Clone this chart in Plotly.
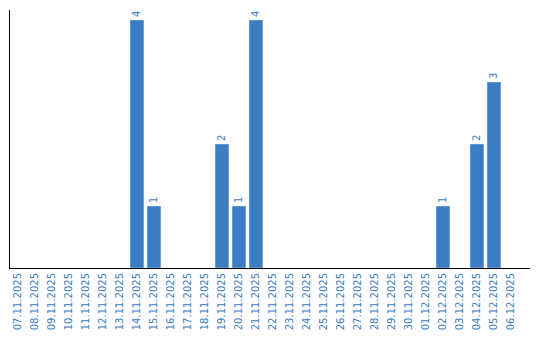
import plotly.graph_objects as go
import pandas as pd

dates = pd.date_range("2025-11-07", "2025-12-06", freq="D")
categories = [d.strftime("%d.%m.%Y") for d in dates]
counts_map = {
    "14.11.2025": 4, "15.11.2025": 1, "19.11.2025": 2, "20.11.2025": 1,
    "21.11.2025": 4, "02.12.2025": 1, "04.12.2025": 2, "05.12.2025": 3,
}
values = [counts_map.get(c, 0) for c in categories]
labels = [str(v) if v else "" for v in values]

blue = "#3a7dc2"
fig = go.Figure(go.Bar(
    x=categories, y=values, text=labels, textposition="outside",
    textangle=-90, marker_color=blue, cliponaxis=False,
    textfont=dict(family="DejaVu Sans", size=10, color=blue),
    hoverinfo="skip",
))
fig.update_layout(
    width=540, height=340, margin=dict(l=10, r=10, t=10, b=70),
    paper_bgcolor="white", plot_bgcolor="white", bargap=0.18,
    showlegend=False, uniformtext=dict(mode=False),
)
fig.update_xaxes(
    type="category", range=[-0.47, 30.12], showgrid=False, showline=True,
    linecolor="black", linewidth=1, tickangle=-90, ticks="",
    tickfont=dict(family="DejaVu Sans", size=10, color=blue),
)
fig.update_yaxes(
    range=[0, 4.16], showgrid=False, showline=True, linecolor="black",
    linewidth=1, showticklabels=False, ticks="", zeroline=False,
)
fig.write_html("out.html")
